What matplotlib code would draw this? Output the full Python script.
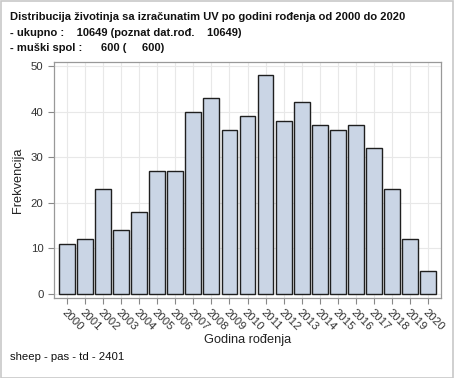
import matplotlib
matplotlib.use("Agg")
import matplotlib.pyplot as plt
from matplotlib.patches import Rectangle

plt.rcParams['font.family'] = ['Liberation Sans', 'DejaVu Sans']

years = [str(y) for y in range(2000, 2021)]
counts = [11, 12, 23, 14, 18, 27, 27, 40, 43, 36, 39, 48, 38, 42, 37, 36, 37, 32, 23, 12, 5]
title_lines = [
    "Distribucija životinja sa izračunatim UV po godini rođenja od 2000 do 2020",
    "- ukupno :    10649 (poznat dat.rođ.    10649)",
    "- muški spol :      600 (     600)",
]
xlabel = "Godina rođenja"
ylabel = "Frekvencija"
footer = "sheep - pas - td - 2401"
yticks = [0, 10, 20, 30, 40, 50]

W, H = 454, 378
fig = plt.figure(figsize=(W / 100, H / 100), dpi=100)
fig.patch.set_facecolor('white')
fig.add_artist(Rectangle((0.5 / W, 0.5 / H), 1 - 1.5 / W, 1 - 1.5 / H, transform=fig.transFigure,
                         fill=False, edgecolor='#c8c8c8', linewidth=1.2))

left, right, top, bottom = 54, 441, 62, 298
ax = fig.add_axes([left / W, 1 - bottom / H, (right - left) / W, (bottom - top) / H])
x = list(range(len(years)))
ax.bar(x, counts, width=0.88, color='#cad5e5', edgecolor='#1f1f1f', linewidth=1.0, zorder=3)
ax.set_xlim(-0.72, len(years) - 0.28)
pad = 4 * 50 / 228
ax.set_ylim(-pad, 50 + pad)
ax.set_yticks(yticks)
ax.set_yticklabels([str(v) for v in yticks], fontsize=8.2, color='#333333')
ax.set_xticks(x)
ax.set_xticklabels(years, rotation=-45, ha='left', va='top', rotation_mode='anchor',
                   fontsize=8.2, color='#333333')
ax.tick_params(axis='both', length=4, color='#888888', width=0.8)
ax.tick_params(axis='x', pad=3)
ax.grid(True, color='#e8e8e8', linewidth=0.8, zorder=0)
for s in ax.spines.values():
    s.set_color('#999999')
    s.set_linewidth(0.9)
ax.set_xlabel(xlabel, fontsize=9.2, color='#222222')
ax.set_ylabel(ylabel, fontsize=9.2, color='#222222')
ax.xaxis.set_label_coords(0.5, -(334 - bottom) / (bottom - top))
ax.yaxis.set_label_coords(-(left - 24) / (right - left), 0.5)

for i, t in enumerate(title_lines):
    fig.text(10 / W, 1 - (17 + i * 15.7) / H, t, fontsize=8.0, fontweight='bold',
             ha='left', va='center', color='#111111')
fig.text(10 / W, 1 - 357 / H, footer, fontsize=8.2, ha='left', va='center', color='#111111')

fig.savefig("out.png", dpi=100)
